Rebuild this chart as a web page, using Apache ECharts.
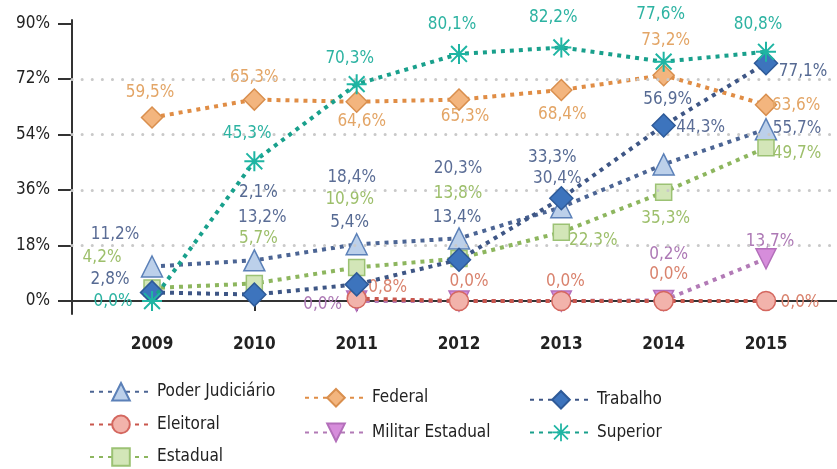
<!DOCTYPE html>
<html>
<head>
<meta charset="utf-8">
<script src="https://cdn.jsdelivr.net/npm/echarts@6/dist/echarts.min.js"></script>
<style>
  html, body { margin: 0; padding: 0; background: #fff; }
  #chart { width: 837px; height: 469px; }
</style>
</head>
<body>
<div id="chart"></div>
<script>
// dados
var years = [2009, 2010, 2011, 2012, 2013, 2014, 2015]
var poderJudiciario = [11.2, 13.2, 18.4, 20.3, 30.4, 44.3, 55.7]
var eleitoral = [null, null, 0.8, 0.0, 0.0, 0.0, 0.0]
var estadual = [4.2, 5.7, 10.9, 13.8, 22.3, 35.3, 49.7]
var federal = [59.5, 65.3, 64.6, 65.3, 68.4, 73.2, 63.6]
var militarEstadual = [null, null, 0.0, 0.0, 0.0, 0.2, 13.7]
var trabalho = [2.8, 2.1, 5.4, 13.4, 33.3, 56.9, 77.1]
var superior = [0.0, 45.3, 70.3, 80.1, 82.2, 77.6, 80.8]
var yTicks = [0, 18, 36, 54, 72, 90]
var gridLevels = [18, 36, 54, 72]

var FONT = '"Liberation Sans Narrow", "DejaVu Sans Condensed", sans-serif'
var STAR = 'path://M9,0L11,0L11,20L9,20Z M0,9L20,9L20,11L0,11Z M1.4,2.8L2.8,1.4L18.6,17.2L17.2,18.6Z M17.2,1.4L18.6,2.8L2.8,18.6L1.4,17.2Z'

// deslocamento dos rotulos (px) em relacao ao marcador
var labelOffsets = {
  pj: [[-37, -32], [8, -43], [-5, -67], [-1, -70], [-4, -29], [37, -37], [31, -1]],
  ele: [null, null, [31, -11], [10, -19], [4, -19], [5, -26], [34, 2]],
  est: [[-50, -31], [4, -45], [-7, -68], [-1, -65], [32, 8], [2, 26], [31, 6]],
  fed: [[-2, -25], [0, -22], [5, 20], [6, 17], [1, 25], [2, -35], [30, 1]],
  mil: [null, null, [-34, 4], null, null, [5, -46], [4, -17]],
  tra: [[-42, -13], [4, -102], [-7, -62], [-2, -42], [-9, -41], [4, -26], [37, 8]],
  sup: [[-39, 1], [-7, -28], [-7, -26], [-7, -29], [-8, -30], [-3, -47], [-8, -27]]
}

function buildData (values, offsets) {
  var out = []
  values.forEach(function (v, i) {
    if (v === null) return
    var off = offsets[i]
    out.push({
      value: [years[i], v],
      label: off ? { show: true, offset: off } : { show: false }
    })
  })
  return out
}

function makeSeries (name, values, offsets, opt) {
  return {
    name: name,
    type: 'line',
    data: buildData(values, offsets),
    symbol: opt.symbol,
    symbolSize: opt.size,
    symbolRotate: opt.rotate || 0,
    z: opt.z,
    lineStyle: { color: opt.line, width: 4, type: [4, 5], cap: 'butt' },
    itemStyle: {
      color: opt.fill,
      borderColor: opt.border,
      borderWidth: opt.border ? 1.5 : 0
    },
    label: {
      show: true,
      position: 'inside',
      align: 'center',
      verticalAlign: 'middle',
      color: opt.text,
      fontFamily: FONT,
      fontSize: 17,
      formatter: function (p) {
        return p.value[1].toFixed(1).replace('.', ',') + '%'
      }
    },
    emphasis: { disabled: true },
    animation: false
  }
}

var series = [
  makeSeries('Militar Estadual', militarEstadual, labelOffsets.mil,
    { symbol: 'triangle', rotate: 180, size: 20, fill: '#d68ddb', border: '#b36fba', line: '#b27ab6', text: '#ad79b5', z: 2 }),
  makeSeries('Poder Judiciário', poderJudiciario, labelOffsets.pj,
    { symbol: 'triangle', size: 21, fill: '#bcd0ea', border: '#5b80b8', line: '#4c6594', text: '#5b6d96', z: 3 }),
  makeSeries('Estadual', estadual, labelOffsets.est,
    { symbol: 'rect', size: 16, fill: '#d3e6b8', border: '#9cc274', line: '#8db65e', text: '#9dbf6b', z: 3 }),
  makeSeries('Eleitoral', eleitoral, labelOffsets.ele,
    { symbol: 'circle', size: 19, fill: '#f2b3ab', border: '#d4675f', line: '#c9574d', text: '#d9826d', z: 4 }),
  makeSeries('Federal', federal, labelOffsets.fed,
    { symbol: 'diamond', size: 21, fill: '#f3b57e', border: '#d98f4e', line: '#e08d45', text: '#e3a566', z: 4 }),
  makeSeries('Trabalho', trabalho, labelOffsets.tra,
    { symbol: 'diamond', size: 23, fill: '#3d74bd', border: '#2e5a98', line: '#3e5685', text: '#566a93', z: 5 }),
  makeSeries('Superior', superior, labelOffsets.sup,
    { symbol: STAR, size: 20, fill: '#1fb5a3', line: '#19a08c', text: '#2db3a2', z: 6 })
]

// linhas de grade pontilhadas
series[0].markLine = {
  silent: true,
  symbol: ['none', 'none'],
  label: { show: false },
  lineStyle: { color: '#c9c9c9', width: 3, type: [0.1, 10], cap: 'round' },
  data: gridLevels.map(function (v) { return { yAxis: v } })
}

var legendBase = {
  type: 'plain',
  orient: 'vertical',
  padding: 0,
  height: 120,
  itemWidth: 62,
  itemHeight: 22,
  itemGap: 13,
  textStyle: { fontFamily: FONT, fontSize: 17, color: '#222' },
  selectedMode: false
}

var charts = echarts.init(document.getElementById('chart'))
var options = {
  backgroundColor: '#fff',
  animation: false,
  grid: { left: 72, right: 0, top: 20, bottom: 155, containLabel: false },
  legend: [
    Object.assign({}, legendBase, { left: 89, top: 382, data: ['Poder Judiciário', 'Eleitoral', 'Estadual'] }),
    Object.assign({}, legendBase, { left: 304, top: 388, itemGap: 15, data: ['Federal', 'Militar Estadual'] }),
    Object.assign({}, legendBase, { left: 529, top: 390, itemGap: 14, data: ['Trabalho', 'Superior'] })
  ],
  xAxis: {
    type: 'value',
    min: 2008.218,
    max: 2015.694,
    splitLine: { show: false },
    axisLine: { show: true, lineStyle: { color: '#333', width: 2 } },
    axisTick: { show: true, length: 10, customValues: years, lineStyle: { color: '#333', width: 2 } },
    axisLabel: {
      customValues: years,
      margin: 22,
      fontFamily: FONT,
      fontSize: 17,
      fontWeight: 'bold',
      color: '#222',
      formatter: function (v) { return String(v) }
    }
  },
  yAxis: {
    type: 'value',
    min: -4.2,
    max: 91.1,
    splitLine: { show: false },
    axisLine: { show: true, lineStyle: { color: '#333', width: 2 } },
    axisTick: { show: true, length: 14, customValues: yTicks, lineStyle: { color: '#333', width: 2 } },
    axisLabel: {
      customValues: yTicks,
      margin: 22,
      fontFamily: FONT,
      fontSize: 17,
      color: '#222',
      formatter: function (v) { return v + '%' }
    }
  },
  series: series
}
charts.setOption(options)
window.addEventListener('resize', function () {
  charts.resize()
})
</script>
</body>
</html>
